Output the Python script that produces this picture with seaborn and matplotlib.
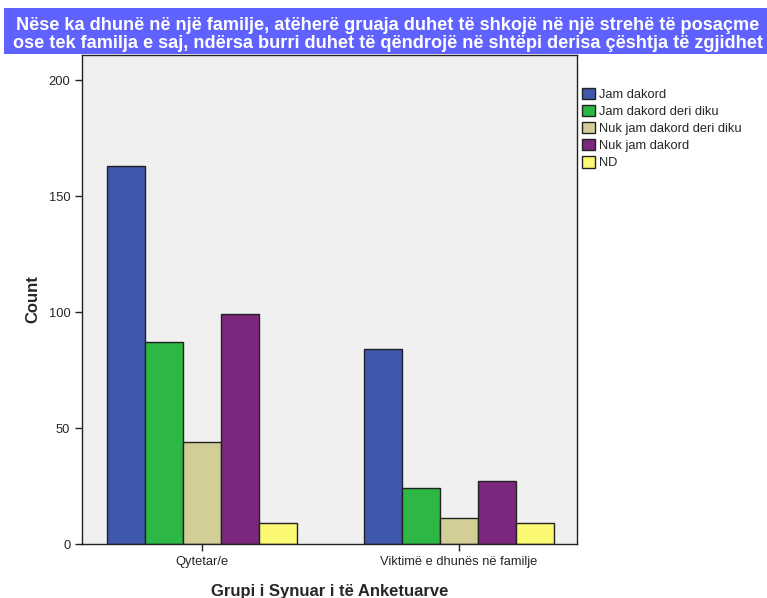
import pandas as pd
import matplotlib.pyplot as plt
import matplotlib.patches as mpatches
import seaborn as sns

# data
groups = ["Qytetar/e", "Viktimë e dhunës në familje"]
answers = ["Jam dakord", "Jam dakord deri diku", "Nuk jam dakord deri diku",
           "Nuk jam dakord", "ND"]
counts_qytetar = [163, 87, 44, 99, 9]
counts_viktime = [84, 24, 11, 27, 9]
colors = ["#3E58AC", "#2DB744", "#D3CE97", "#7B277E", "#FBF873"]

title = ("Nëse ka dhunë në një familje, atëherë gruaja duhet të shkojë në një strehë të posaçme\n"
         "ose tek familja e saj, ndërsa burri duhet të qëndrojë në shtëpi derisa çështja të zgjidhet")

df = pd.DataFrame({
    "group": [groups[0]] * len(answers) + [groups[1]] * len(answers),
    "answer": answers * 2,
    "count": counts_qytetar + counts_viktime,
})

sns.set_style("ticks")
plt.rcParams["font.family"] = ["Liberation Sans", "DejaVu Sans"]

fig = plt.figure(figsize=(7.67, 5.98), dpi=100)
ax = fig.add_axes([0.107, 0.0903, 0.645, 0.818])
ax.set_facecolor("#F0F0F0")

sns.barplot(data=df, x="group", y="count", hue="answer", order=groups,
            hue_order=answers, palette=colors, width=0.74,
            edgecolor="#222222", linewidth=1, saturation=1, ax=ax)

ax.set_xlim(-0.467, 1.459)
ax.set_ylim(0, 211)
ax.set_yticks([0, 50, 100, 150, 200])
ax.tick_params(axis="both", labelsize=9.3, length=5, width=1, color="#222222")
for s in ax.spines.values():
    s.set_color("#222222")
    s.set_linewidth(1)
ax.set_xlabel("Grupi i Synuar i të Anketuarve", fontsize=12, fontweight="bold", labelpad=12)
ax.set_ylabel("Count", fontsize=12, fontweight="bold", labelpad=6)

ax.get_legend().remove()
handles = [mpatches.Patch(facecolor=c, edgecolor="#222222", label=a)
           for c, a in zip(colors, answers)]
fig.legend(handles=handles, loc="upper left", bbox_to_anchor=(0.752, 0.862),
           frameon=False, fontsize=9.3, handlelength=1.0, handleheight=1.0,
           handletextpad=0.3, labelspacing=0.3, borderaxespad=0)

# title banner
fig.patches.append(mpatches.Rectangle((0.0052, 0.909), 0.995, 0.078,
                                      transform=fig.transFigure,
                                      facecolor="#5F62FF", edgecolor="none", zorder=5))
fig.text(0.506, 0.942, title, ha="center", va="center", color="white",
         fontsize=13.1, fontweight="bold", linespacing=1.05, zorder=6)

fig.savefig("out.png", dpi=100)
